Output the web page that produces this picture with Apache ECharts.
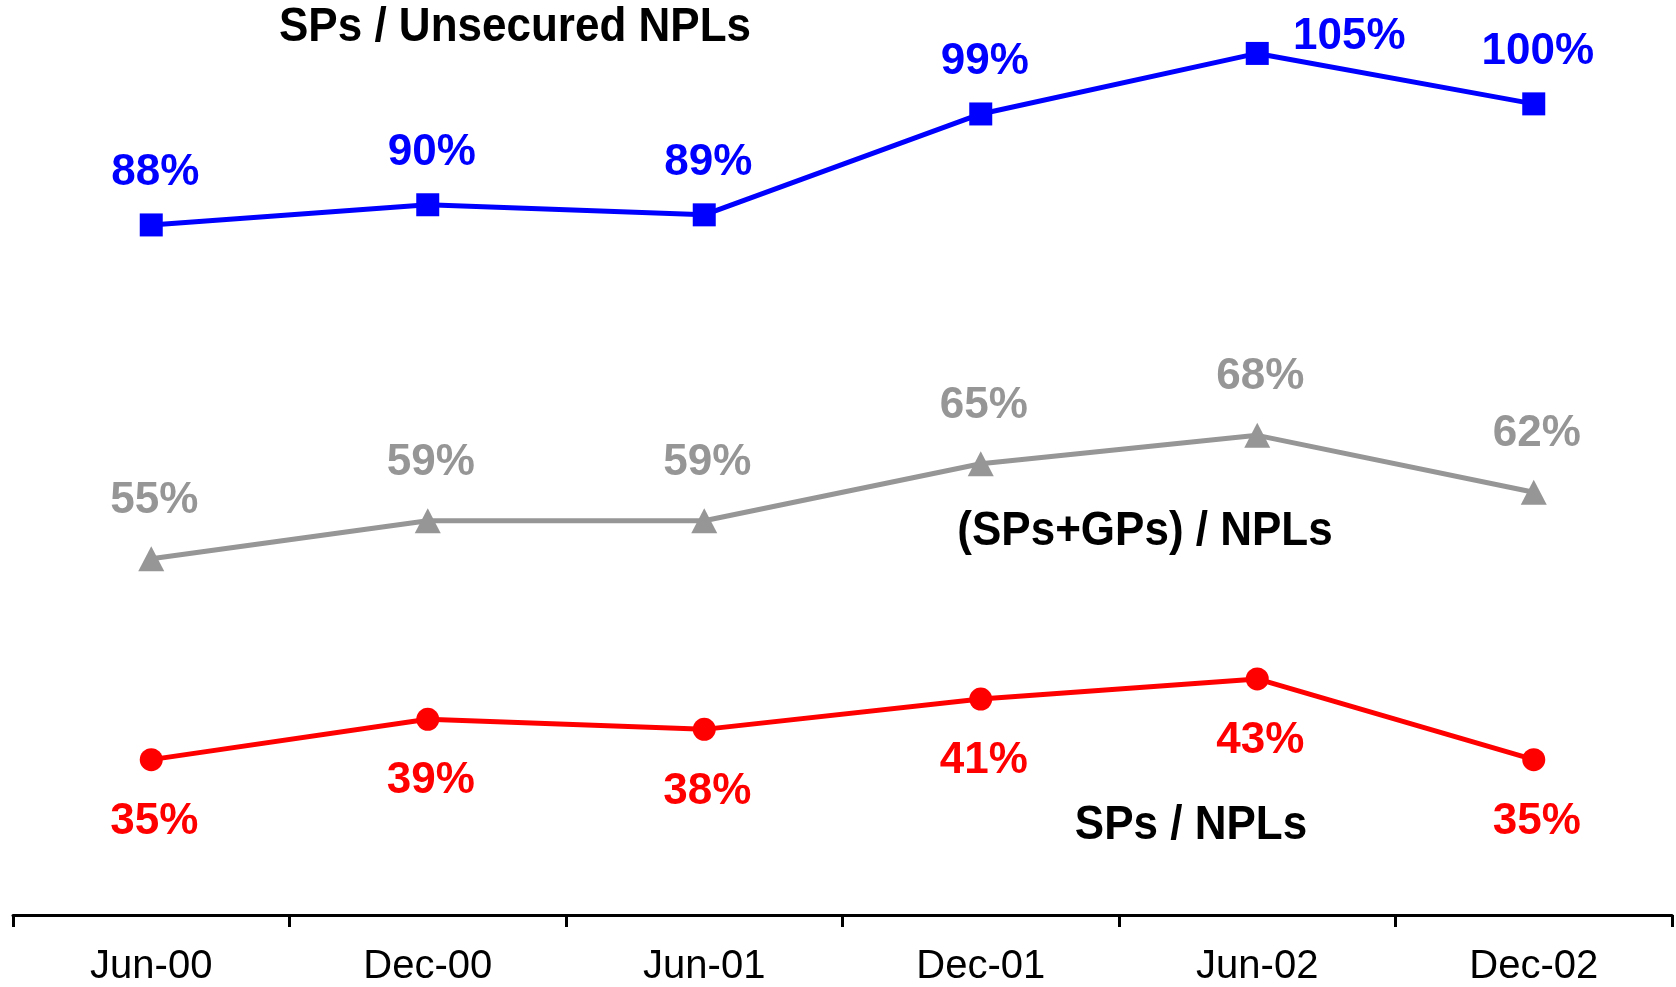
<!DOCTYPE html>
<html>
<head>
<meta charset="utf-8">
<script src="https://cdn.jsdelivr.net/npm/echarts@6/dist/echarts.min.js"></script>
<style>
html,body{margin:0;padding:0;background:#fff;}
#chart{width:1676px;height:987px;}
</style>
</head>
<body>
<div id="chart"></div>
<script>
const categories = ['Jun-00', 'Dec-00', 'Jun-01', 'Dec-01', 'Jun-02', 'Dec-02'];
const spsUnsecured = [88, 90, 89, 99, 105, 100];
const spsGpsNpls = [55, 59, 59, 65, 68, 62];
const spsNpls = [35, 39, 38, 41, 43, 35];
const seriesNames = ['SPs / Unsecured NPLs', '(SPs+GPs) / NPLs', 'SPs / NPLs'];

const BOLD = '"Liberation Sans", Arial, sans-serif';
const chart = echarts.init(document.getElementById('chart'));

function lbl(color, offset) {
  return {
    show: true, position: 'inside', offset: offset,
    formatter: p => p.value + '%',
    color: color, fontFamily: BOLD, fontWeight: 'bold', fontSize: 44
  };
}

const blueData = spsUnsecured.map((v, i) => i === 4
  ? { value: v, label: { offset: [92, -17] } }
  : v);

function nameText(text, x, y) {
  return { type: 'text', x: x, y: y, scaleY: 1.1,
    style: { text: text, fill: '#000', font: 'bold 44px ' + BOLD, align: 'center', verticalAlign: 'middle' } };
}

chart.setOption({
  animation: false,
  grid: { left: 13, right: 4, top: 16, bottom: 71 },
  xAxis: {
    type: 'category', data: categories, boundaryGap: true,
    axisLine: { lineStyle: { color: '#000', width: 3 } },
    axisTick: { show: true, length: 12, lineStyle: { color: '#000', width: 3 } },
    axisLabel: { color: '#000', fontFamily: '"Liberation Sans", Arial, sans-serif', fontSize: 40, margin: 32 }
  },
  yAxis: [
    { type: 'value', min: 19.6, max: 108.71, show: false, splitLine: { show: false } },
    { type: 'value', min: 17.45, max: 112.19, show: false, splitLine: { show: false } }
  ],
  series: [
    {
      name: seriesNames[0], type: 'line', data: blueData, yAxisIndex: 0,
      symbol: 'rect', symbolSize: 23,
      lineStyle: { color: '#0000FF', width: 5 }, itemStyle: { color: '#0000FF' },
      label: lbl('#0000FF', [4, -52])
    },
    {
      name: seriesNames[1], type: 'line', data: spsGpsNpls, yAxisIndex: 1,
      symbol: 'triangle', symbolSize: [26, 25],
      lineStyle: { color: '#969696', width: 5 }, itemStyle: { color: '#969696' },
      label: lbl('#969696', [3, -58])
    },
    {
      name: seriesNames[2], type: 'line', data: spsNpls, yAxisIndex: 0,
      symbol: 'circle', symbolSize: 23,
      lineStyle: { color: '#FF0000', width: 5 }, itemStyle: { color: '#FF0000' },
      label: lbl('#FF0000', [3, 62])
    }
  ],
  graphic: [
    nameText(seriesNames[0], 515, 28),
    nameText(seriesNames[1], 1145, 532),
    nameText(seriesNames[2], 1191, 826)
  ]
});
</script>
</body>
</html>
